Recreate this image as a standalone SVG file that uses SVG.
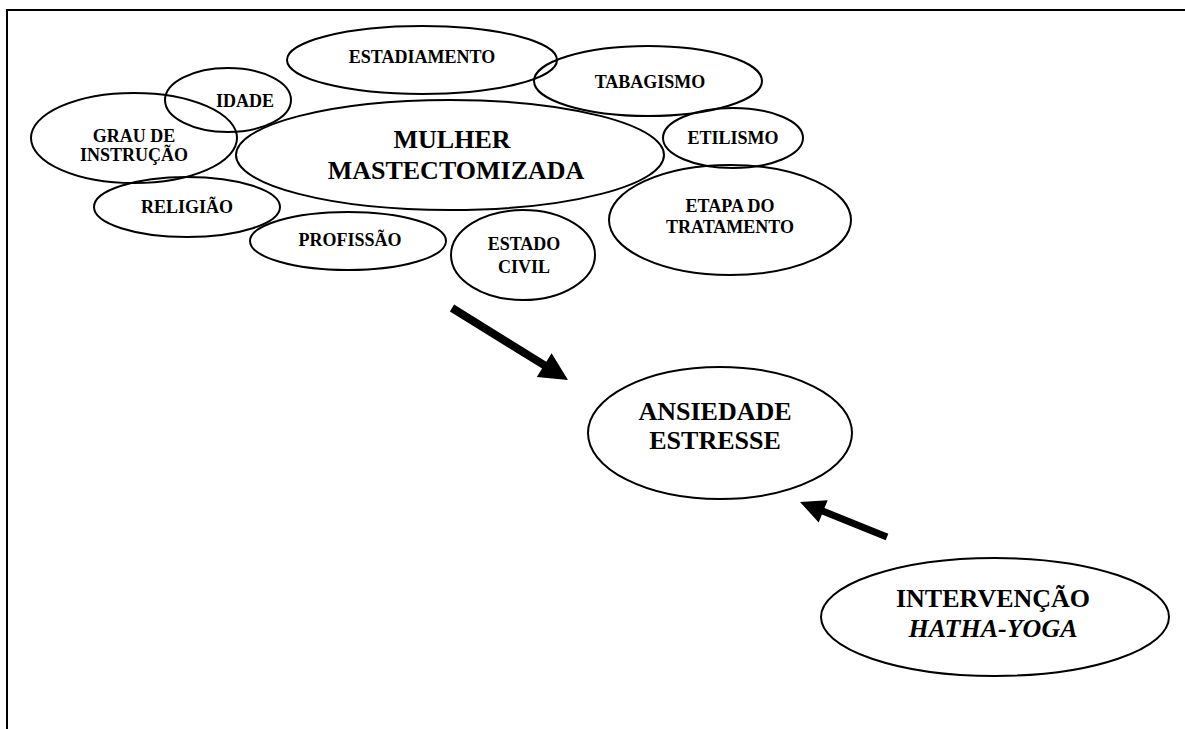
<svg xmlns="http://www.w3.org/2000/svg" width="1185" height="729" viewBox="0 0 1185 729">
<defs>
<style>
.n ellipse{fill:none;stroke:#000;stroke-width:2}
.s{font-family:"Liberation Serif","Times New Roman",serif;font-weight:bold;font-size:18px;text-anchor:middle;fill:#000}
.b{font-family:"Liberation Serif","Times New Roman",serif;font-weight:bold;font-size:26px;text-anchor:middle;fill:#000}
.arrow{fill:#000;stroke:none}
</style>
</defs>
<rect width="1185" height="729" fill="#fff"/>
<path d="M7,729 V10 H1185" fill="none" stroke="#000" stroke-width="2"/>
<g class="n" id="estadiamento"><ellipse cx="422" cy="60" rx="135" ry="34"/><text class="s" x="422" y="63">ESTADIAMENTO</text></g>
<g class="n" id="idade"><ellipse cx="228" cy="100" rx="63" ry="32"/><text class="s" x="245" y="107">IDADE</text></g>
<g class="n" id="tabagismo"><ellipse cx="648" cy="81" rx="114" ry="35"/><text class="s" x="650" y="88">TABAGISMO</text></g>
<g class="n" id="grau"><ellipse cx="134" cy="138" rx="103" ry="45"/><text class="s" x="134" y="142">GRAU DE</text><text class="s" x="134" y="161">INSTRUÇÃO</text></g>
<g class="n" id="mulher"><ellipse cx="450" cy="155" rx="214" ry="55"/><text class="b" x="452" y="148">MULHER</text><text class="b" x="456" y="179">MASTECTOMIZADA</text></g>
<g class="n" id="etilismo"><ellipse cx="733" cy="138" rx="70" ry="30"/><text class="s" x="733" y="144">ETILISMO</text></g>
<g class="n" id="religiao"><ellipse cx="187" cy="207" rx="93" ry="30"/><text class="s" x="187" y="213">RELIGIÃO</text></g>
<g class="n" id="profissao"><ellipse cx="348" cy="241" rx="98" ry="29"/><text class="s" x="350" y="246">PROFISSÃO</text></g>
<g class="n" id="estadocivil"><ellipse cx="523" cy="255" rx="72" ry="45"/><text class="s" x="524" y="250">ESTADO</text><text class="s" x="524" y="273">CIVIL</text></g>
<g class="n" id="etapa"><ellipse cx="730" cy="220" rx="121" ry="55"/><text class="s" x="730" y="212">ETAPA DO</text><text class="s" x="730" y="233">TRATAMENTO</text></g>
<g class="n" id="ansiedade"><ellipse cx="720" cy="433" rx="132" ry="66"/><text class="b" x="715" y="420">ANSIEDADE</text><text class="b" x="715" y="449">ESTRESSE</text></g>
<g class="n" id="intervencao"><ellipse cx="995" cy="617" rx="174" ry="59"/><text class="b" x="993" y="607">INTERVENÇÃO</text><text class="b" x="993" y="637" font-style="italic">HATHA-YOGA</text></g>
<g id="connectors">
<polygon class="arrow" points="454.1,304.6 546.3,361.8 551.6,353.3 568,380 536.8,377.1 542.1,368.6 449.9,311.4"/>
<polygon class="arrow" points="888.3,533.75 824.5,508.05 827.7,500.2 800,502 818.7,522.4 821.9,514.55 885.7,540.25"/>
</g>
</svg>
